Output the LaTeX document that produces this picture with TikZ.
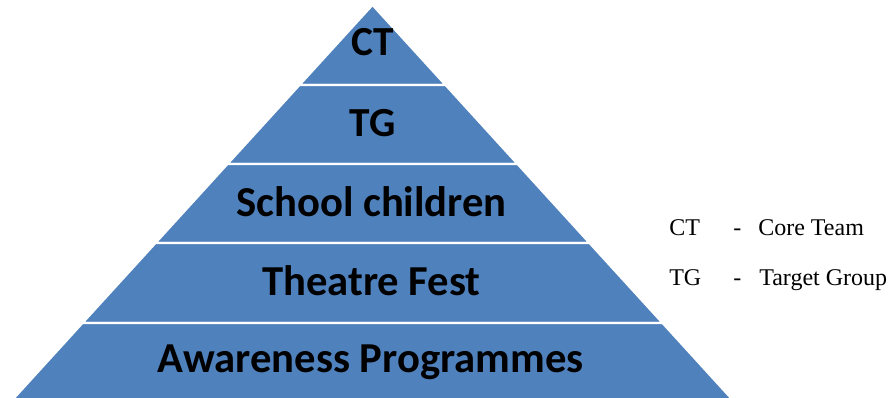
\documentclass[tikz,border=0pt]{standalone}
\usepackage{fontspec}
\setmainfont{Liberation Serif}
\newfontfamily\lbl{Carlito}
\definecolor{pyr}{HTML}{4F81BD}
\begin{document}
\begin{tikzpicture}[x=0.75pt,y=-0.75pt,
  layer/.style={fill=pyr,draw=white,line width=1.6pt,line join=miter},
  big/.style={font=\lbl\bfseries\fontsize{32}{38}\selectfont,anchor=base,inner sep=0pt},
  small/.style={font=\lbl\bfseries\fontsize{31}{37}\selectfont,anchor=base,inner sep=0pt},
  leg/.style={font=\fontsize{18}{22}\selectfont,anchor=base west,inner sep=0pt}]
\useasboundingbox (0,0) rectangle (891,398);
% layers
\draw[layer] (372.5,5) -- (445.5,85) -- (299.5,85) -- cycle;
\draw[layer] (299.5,85) -- (445.5,85) -- (517.5,164) -- (227.5,164) -- cycle;
\draw[layer] (227.5,164) -- (517.5,164) -- (589.5,243) -- (155.5,243) -- cycle;
\draw[layer] (155.5,243) -- (589.5,243) -- (662.5,323) -- (82.5,323) -- cycle;
\draw[layer] (82.5,323) -- (662.5,323) -- (732.7,400) -- (12.3,400) -- cycle;
% labels
\node[small] (ct) at (372.5,56) {CT};
\node[small] (tg) at (372.5,137) {TG};
\node[big] (sc) at (371.5,217) {School children};
\node[big] (tf) at (371.5,296) {Theatre Fest};
\node[big] (ap) at (370.5,373) {Awareness Programmes};
% legend
\node[leg] (l1a) at (669,236) {CT};
\node[leg] (l1b) at (733,236) {-};
\node[leg] (l1c) at (758,236) {Core Team};
\node[leg] (l2a) at (669,286) {TG};
\node[leg] (l2b) at (733,286) {-};
\node[leg] (l2c) at (759,286) {Target Group};
\end{tikzpicture}
\end{document}
